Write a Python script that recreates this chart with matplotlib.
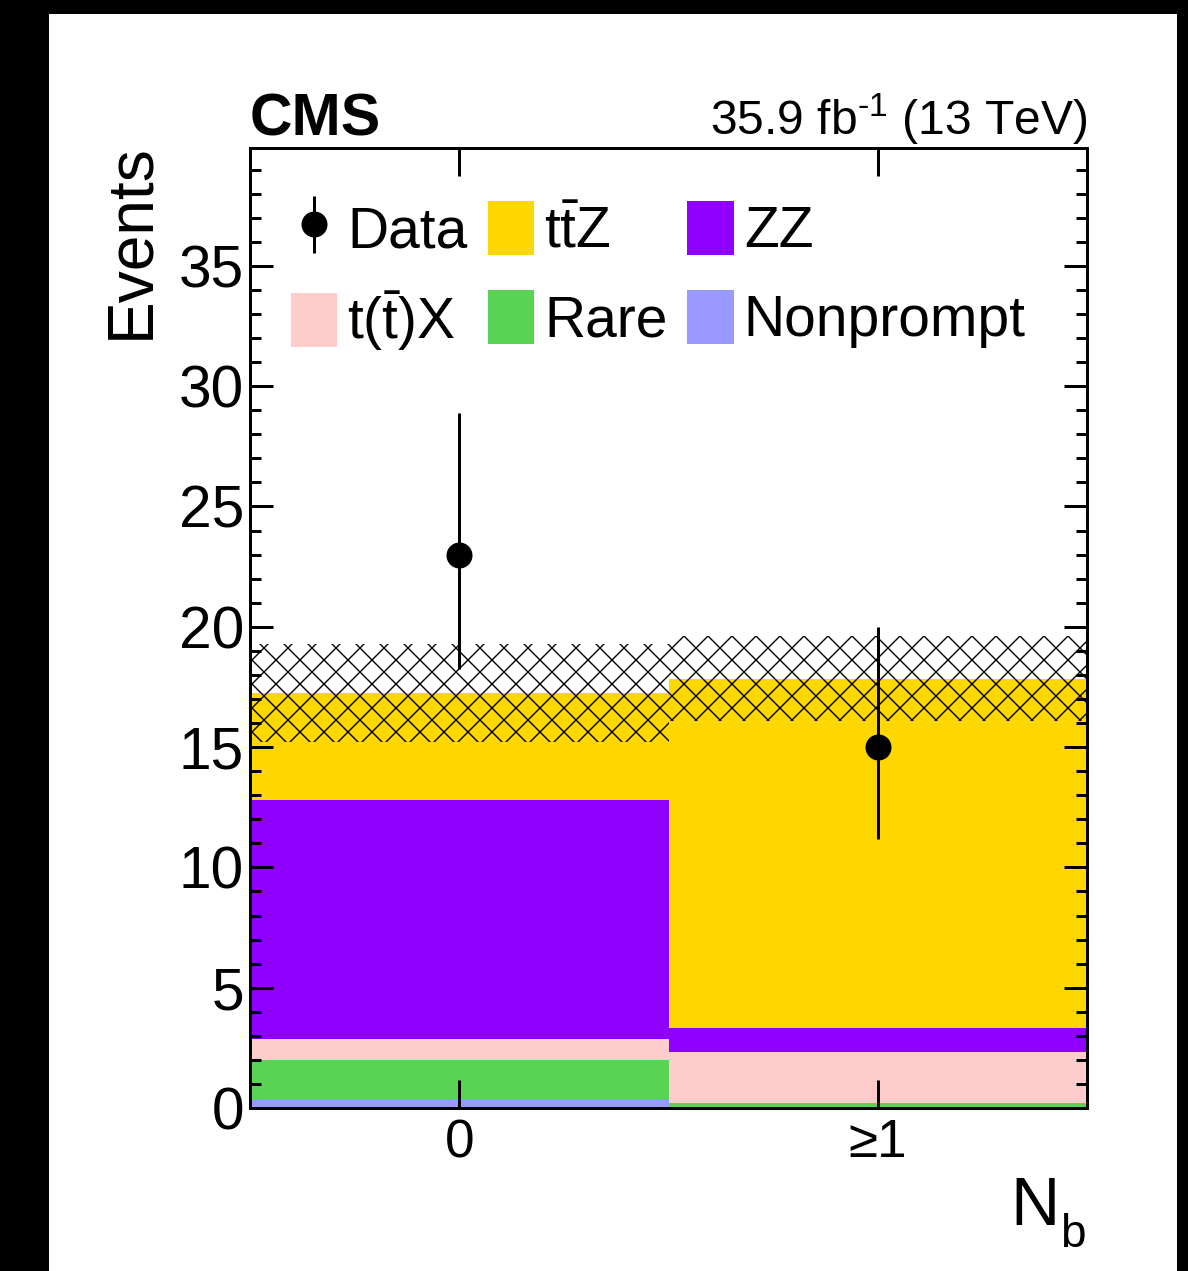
import matplotlib
matplotlib.use("Agg")
import matplotlib.pyplot as plt
import numpy as np
from matplotlib.patches import Rectangle
from matplotlib.ticker import MultipleLocator

plt.rcParams['font.family'] = ['Liberation Sans', 'DejaVu Sans']
plt.rcParams['mathtext.fontset'] = 'custom'
plt.rcParams['mathtext.rm'] = 'Liberation Sans'
plt.rcParams['mathtext.it'] = 'Liberation Sans:italic'
plt.rcParams['mathtext.bf'] = 'Liberation Sans:bold'
plt.rcParams['hatch.linewidth'] = 0.7

# --- data ---
bins = [0, 1]
bin_labels = ['0', '≥1']
bkg_names = ['Nonprompt', 'Rare', r'$\mathrm{t(\bar{t})X}$', 'ZZ', r'$\mathrm{t\bar{t}Z}$']
bkg_colors = ['#9999ff', '#59d354', '#ffcccc', '#8f00ff', '#ffd700']
nonprompt = [0.33, 0.0]
rare = [1.67, 0.21]
ttx = [0.87, 2.12]
zz = [9.93, 1.0]
ttz = [4.45, 14.5]
unc_lo = [2.04, 1.75]
unc_hi = [2.03, 1.79]
data = [23, 15]
data_lo = [4.75, 3.82]
data_hi = [5.9, 4.99]

fig = plt.figure(figsize=(1188 / 144, 1271 / 144), dpi=144, facecolor='black')
fig.patches.append(Rectangle((50 / 1188, 0), 1126 / 1188, 1256 / 1271,
                             transform=fig.transFigure, color='white', zorder=-1))
ax = fig.add_axes([250 / 1188, 1 - 1108 / 1271, 837 / 1188, 960 / 1271])

stack = [nonprompt, rare, ttx, zz, ttz]
bottom = np.zeros(len(bins))
handles = {}
for vals, name, col in zip(stack, bkg_names, bkg_colors):
    h = ax.bar(bins, vals, width=1.0, bottom=bottom, color=col, linewidth=0, label=name)
    handles[name] = h
    bottom += np.array(vals)

total = bottom
ax.bar(bins, np.array(unc_lo) + np.array(unc_hi), width=1.0, bottom=total - np.array(unc_lo),
       fill=False, hatch='xx', edgecolor='black', linewidth=0)

eb = ax.errorbar(bins, data, yerr=[data_lo, data_hi], fmt='o', color='black',
                 ms=12, elinewidth=1.5, capsize=0)

ax.set_xlim(-0.5, 1.5)
ax.set_ylim(0, 39.9)
ax.set_xticks(bins)
ax.set_xticklabels(bin_labels)
ax.yaxis.set_major_locator(MultipleLocator(5))
ax.yaxis.set_minor_locator(MultipleLocator(1))
ax.tick_params(axis='both', which='both', direction='in', top=True, right=True, width=1.5)
ax.tick_params(axis='y', which='major', length=11.5, labelsize=29.3, pad=3)
ax.tick_params(axis='y', which='minor', length=5.5)
ax.tick_params(axis='x', which='major', length=14, labelsize=26.5, pad=5)
for sp in ax.spines.values():
    sp.set_linewidth(1.5)

ax.set_ylabel('Events', fontsize=32, loc='top')
ax.yaxis.set_label_coords(-0.106, 1.005)
# x title "N_b" drawn as two pieces to get the ROOT-style subscript drop
ax.text(0.9677, -0.1219, 'N', transform=ax.transAxes, fontsize=34,
        ha='right', va='baseline')
ax.text(0.9677, -0.1448, 'b', transform=ax.transAxes, fontsize=23,
        ha='left', va='baseline')

ax.text(0.0, 1.0135, 'CMS', transform=ax.transAxes, fontsize=29.5, fontweight='bold',
        ha='left', va='baseline')
ax.text(1.0, 1.0135, r'35.9 fb$^{\text{-1}}$ (13 TeV)', transform=ax.transAxes,
        fontsize=24, ha='right', va='baseline')

order = ['Data', r'$\mathrm{t(\bar{t})X}$', r'$\mathrm{t\bar{t}Z}$', 'Rare', 'ZZ', 'Nonprompt']
leg_handles = [eb if n == 'Data' else handles[n] for n in order]
ax.legend(leg_handles, order, ncol=3, loc='upper left', bbox_to_anchor=(0.049, 0.945),
          frameon=False, fontsize=28.5, borderpad=0, handlelength=0.81, handleheight=1.09,
          handletextpad=0.18, columnspacing=0.35, labelspacing=0.53, borderaxespad=0)

fig.savefig('out.png', dpi=144, facecolor=fig.get_facecolor())
